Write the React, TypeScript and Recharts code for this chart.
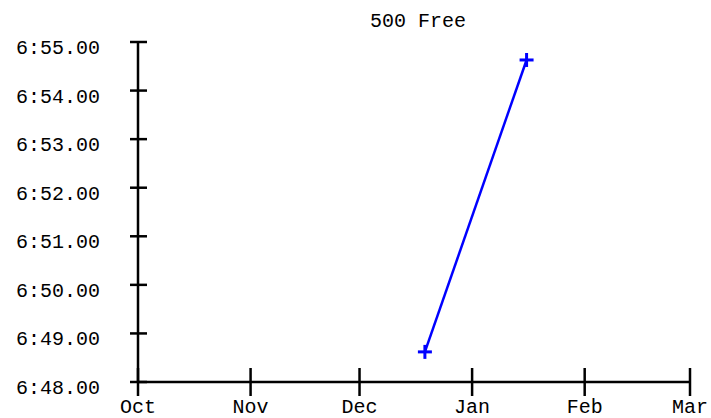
import { LineChart, Line, XAxis, YAxis } from 'recharts';

// swim meet results for the 500 free, times in seconds
const meetDates = ['2023-12-19', '2024-01-16'];
const swimTimes = [408.62, 414.63];

// season axis: first of each month
const monthStarts = ['2023-10-01', '2023-11-01', '2023-12-01', '2024-01-01', '2024-02-01', '2024-03-01'];
const monthLabels = ['Oct', 'Nov', 'Dec', 'Jan', 'Feb', 'Mar'];

const timeTicks = [408, 409, 410, 411, 412, 413, 414, 415];

const FONT = '"Courier New", "Liberation Mono", monospace';
const BLUE = '#0000ff';

const data = meetDates.map((d, i) => ({ date: Date.parse(d), time: swimTimes[i] }));
const monthTicks = monthStarts.map((d) => Date.parse(d));

const formatTime = (v: number) => {
  const min = Math.floor(v / 60);
  const sec = (v - min * 60).toFixed(2).padStart(5, '0');
  return `${min}:${sec}`;
};

const XTick = ({ x, y, payload }: any) => {
  const idx = monthTicks.indexOf(payload.value);
  return (
    <g>
      <line x1={x} x2={x} y1={y - 14} y2={y + 14} stroke="#000" strokeWidth={2.5} />
      <text x={x} y={y + 31} textAnchor="middle" fill="#000" fontSize={20} fontFamily={FONT}>
        {monthLabels[idx]}
      </text>
    </g>
  );
};

const YTick = ({ x, y, payload }: any) => (
  <g>
    <line x1={x - 8} x2={x + 9} y1={y} y2={y} stroke="#000" strokeWidth={2.5} />
    <text x={x - 38} y={y + 12} textAnchor="end" fill="#000" fontSize={20} fontFamily={FONT}>
      {formatTime(payload.value)}
    </text>
  </g>
);

const PlusDot = ({ cx, cy, index }: any) => (
  <g key={`dot-${index}`}>
    <line x1={cx - 7} x2={cx + 7} y1={cy} y2={cy} stroke={BLUE} strokeWidth={3} />
    <line x1={cx} x2={cx} y1={cy - 7} y2={cy + 7} stroke={BLUE} strokeWidth={3} />
  </g>
);

export default function App() {
  return (
    <div style={{ position: 'absolute', left: 0, top: 0, width: 711, height: 418, background: '#fff' }}>
      <div
        style={{
          position: 'absolute',
          left: 318,
          top: 10,
          width: 200,
          textAlign: 'center',
          fontFamily: FONT,
          fontSize: 20,
          lineHeight: '24px',
          color: '#000',
        }}
      >
        500 Free
      </div>
      <LineChart width={711} height={418} data={data} margin={{ top: 42, right: 21, bottom: 0, left: 0 }}>
        <XAxis
          dataKey="date"
          type="number"
          scale="time"
          domain={[monthTicks[0], monthTicks[monthTicks.length - 1]]}
          ticks={monthTicks}
          interval={0}
          height={36}
          tickSize={0}
          tickMargin={0}
          tickLine={false}
          axisLine={{ stroke: '#000', strokeWidth: 2.5 }}
          tick={<XTick />}
        />
        <YAxis
          dataKey="time"
          type="number"
          domain={[408, 415]}
          ticks={timeTicks}
          interval={0}
          width={138}
          tickSize={0}
          tickMargin={0}
          tickLine={false}
          axisLine={{ stroke: '#000', strokeWidth: 2.5 }}
          tick={<YTick />}
        />
        <Line
          type="linear"
          dataKey="time"
          stroke={BLUE}
          strokeWidth={2.5}
          dot={<PlusDot />}
          activeDot={false}
          isAnimationActive={false}
        />
      </LineChart>
    </div>
  );
}
